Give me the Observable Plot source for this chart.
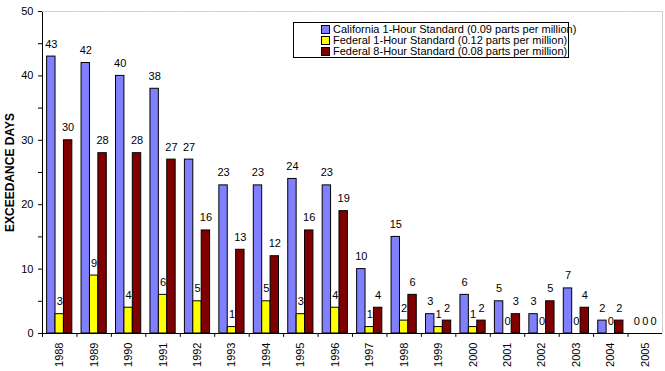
<!DOCTYPE html>
<html>
<head>
<meta charset="utf-8">
<script src="https://cdn.jsdelivr.net/npm/d3@7"></script>
<script src="https://cdn.jsdelivr.net/npm/@observablehq/plot@0.6"></script>
<style>
  html, body { margin: 0; padding: 0; background: #fff; }
  #wrap { position: relative; width: 665px; height: 371px; font-family: "Liberation Sans", Arial, sans-serif; }
  #legend { position: absolute; left: 293px; top: 22px; width: 276px; height: 36px; border: 1px solid #000; background: #fff; box-sizing: border-box; padding: 1px 0 0 27px; font-size: 11px; line-height: 11px; }
  #legend .item { display: flex; align-items: center; white-space: nowrap; height: 11px; }
  #legend .sw { width: 7px; height: 7px; border: 1px solid #000; margin-right: 3px; flex: none; }
  g[aria-label="y-axis label"] text { font-weight: bold; font-size: 12px; }
</style>
</head>
<body>
<div id="wrap"></div>
<script>
const years = ["1988","1989","1990","1991","1992","1993","1994","1995","1996","1997","1998","1999","2000","2001","2002","2003","2004","2005"];
const seriesNames = ["California 1-Hour Standard (0.09 parts per million)", "Federal 1-Hour Standard (0.12 parts per million)", "Federal 8-Hour Standard (0.08 parts per million)"];
const seriesColors = ["#8080FF", "#FFFF00", "#800000"];
const california1h = [43,42,40,38,27,23,23,24,23,10,15,3,6,5,3,7,2,0];
const federal1h    = [3,9,4,6,5,1,5,3,4,1,2,1,1,0,0,0,0,0];
const federal8h    = [30,28,28,27,16,13,12,16,19,4,6,2,2,3,5,4,2,0];
const yTicks = [0,5,10,15,20,25,30,35,40,45,50];

const seriesValues = [california1h, federal1h, federal8h];
const data = [];
years.forEach((yr, i) => {
  seriesNames.forEach((s, j) => data.push({year: yr, series: s, value: seriesValues[j][i]}));
});

const W = 665, H = 371, mL = 42, mR = 3, mT = 11, mB = 38;
const po = 0.55;
const facetW = (W - mL - mR) / years.length;
const step = facetW / (seriesNames.length + 2 * po);
const edgeDx = -(po * step + step / 2);

const chart = Plot.plot({
  width: W, height: H,
  marginLeft: mL, marginRight: mR, marginTop: mT, marginBottom: mB,
  style: {fontFamily: "'Liberation Sans', Arial, sans-serif", fontSize: "11px", background: "white", color: "black", overflow: "visible"},
  fx: {domain: years, padding: 0, round: false, label: null, axis: "bottom", tickRotate: -90, tickSize: 0, tickPadding: 9},
  x: {domain: seriesNames, paddingInner: 0, paddingOuter: po, round: false, axis: null},
  y: {domain: [0, 50], ticks: yTicks, tickFormat: d => d % 10 === 0 ? d : "", tickSize: 4, tickPadding: 5, line: true,
      label: "EXCEEDANCE DAYS", labelAnchor: "center", labelArrow: "none", labelOffset: 37},
  color: {domain: seriesNames, range: seriesColors},
  marks: [
    Plot.ruleY([50], {stroke: "#d0d0d0"}),
    Plot.ruleX([years[years.length - 1]], {fx: d => d, x: () => seriesNames[2], dx: -edgeDx, stroke: "#d0d0d0", y1: 0, y2: 50}),
    Plot.barY(data, {fx: "year", x: "series", y: "value", fill: "series", stroke: "black", strokeWidth: 1}),
    Plot.text(data, {fx: "year", x: "series", y: "value", text: d => String(d.value), lineAnchor: "bottom", dy: -9, fill: "black", fontSize: 11}),
    Plot.ruleY([0], {stroke: "black"}),
    Plot.ruleX(years, {fx: d => d, x: () => seriesNames[0], dx: edgeDx, y1: 0, y2: -0.6, stroke: "black"})
  ]
});

const wrap = document.getElementById("wrap");
wrap.appendChild(chart);

const legend = document.createElement("div");
legend.id = "legend";
seriesNames.forEach((s, j) => {
  const item = document.createElement("div");
  item.className = "item";
  const sw = document.createElement("span");
  sw.className = "sw";
  sw.style.background = seriesColors[j];
  const t = document.createElement("span");
  t.textContent = s;
  item.appendChild(sw);
  item.appendChild(t);
  legend.appendChild(item);
});
wrap.appendChild(legend);
</script>
</body>
</html>
